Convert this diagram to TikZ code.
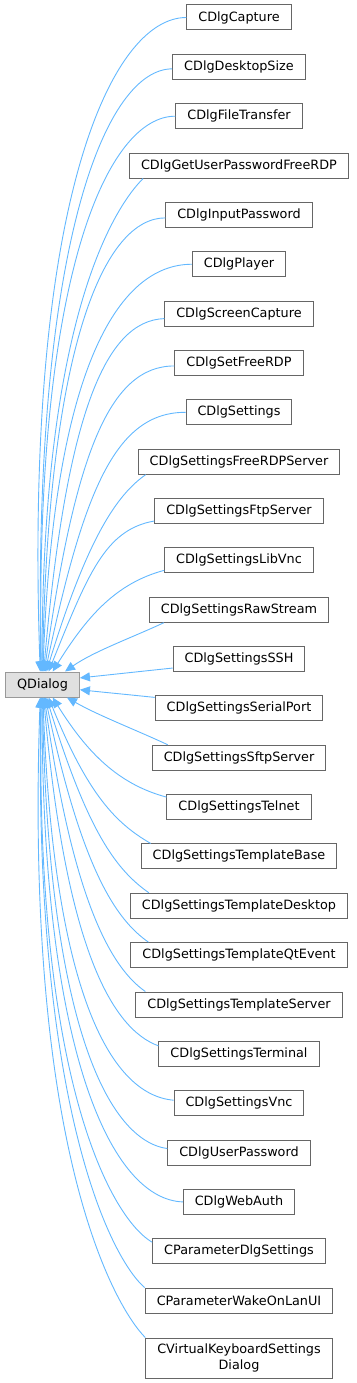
\documentclass[tikz,border=0pt]{standalone}
\usepackage{fontspec}
\setmainfont{DejaVu Sans}
\usepackage{xcolor}
\usepackage{tikz}
\usetikzlibrary{arrows.meta}

\definecolor{edgeblue}{HTML}{63B8FF}
\definecolor{boxgray}{HTML}{666666}
\definecolor{basegray}{HTML}{999999}
\definecolor{basefill}{HTML}{E0E0E0}

\tikzset{
  cls/.style={draw=boxgray, fill=white, line width=1pt, minimum height=25pt,
    inner xsep=11.5pt, inner ysep=0pt, font=\fontsize{12.8}{15.5}\selectfont},
  basecls/.style={cls, draw=basegray, fill=basefill},
  inherit/.style={edgeblue, line width=0.9pt, -{Triangle[length=10pt,width=9pt]}}
}

\begin{document}
\begin{tikzpicture}[x=1pt,y=-1pt]

\useasboundingbox (0,0) rectangle (356,1383);

\node[basecls] (qdialog) at (42.5,684.5) {QDialog};

\foreach \nm/\txt [count=\k from 0] in {
capture/CDlgCapture,
desktopsize/CDlgDesktopSize,
filetransfer/CDlgFileTransfer,
getuserpwd/CDlgGetUserPasswordFreeRDP,
inputpwd/CDlgInputPassword,
player/CDlgPlayer,
screencapture/CDlgScreenCapture,
setfreerdp/CDlgSetFreeRDP,
settings/CDlgSettings,
freerdpserver/CDlgSettingsFreeRDPServer,
ftpserver/CDlgSettingsFtpServer,
libvnc/CDlgSettingsLibVnc,
rawstream/CDlgSettingsRawStream,
ssh/CDlgSettingsSSH,
serialport/CDlgSettingsSerialPort,
sftpserver/CDlgSettingsSftpServer,
telnet/CDlgSettingsTelnet,
tplbase/CDlgSettingsTemplateBase,
tpldesktop/CDlgSettingsTemplateDesktop,
tplqtevent/CDlgSettingsTemplateQtEvent,
tplserver/CDlgSettingsTemplateServer,
terminal/CDlgSettingsTerminal,
vnc/CDlgSettingsVnc,
userpwd/CDlgUserPassword,
webauth/CDlgWebAuth,
paramdlg/CParameterDlgSettings,
wakeonlan/CParameterWakeOnLanUI
}{
    \node[cls] (\nm) at (239,{17.5+49.35*\k}) {\txt};
}

\node[cls, align=center, minimum height=40pt] (virtualkbd) at (239,1358)
  {CVirtualKeyboardSettings\\Dialog};

% child anchor, shift, leaving angle, QDialog anchor, arriving angle, distances
\foreach \nm/\anc/\dx/\dy/\out/\ang/\in/\od/\id in {
capture/west/0/0/180/100/92/75/470,
desktopsize/west/0/-2/180/97/91/65/435,
filetransfer/west/0/0/180/95/91/67/400,
getuserpwd/south west/14/0/225/92/90/40/355,
inputpwd/west/0/-3/180/90/89/60/330,
player/west/0/0/180/88/88/75/300,
screencapture/west/0/-5/182/85/85/60/255,
setfreerdp/west/0/-3/180/82/82/65/220,
settings/west/0/0/180/78/78/70/185,
freerdpserver/south west/8/0/215/73/73/35/140,
ftpserver/west/0/-10/190/65/68/50/105,
libvnc/west/0/-10/195/52/58/50/65,
rawstream/south west/15/0/205/30/35/35/35,
ssh/west/0/-9/186/10/6/30/30,
serialport/west/0/11/174/-8/-6/25/25,
sftpserver/north west/16/0/155/-28/-30/35/35,
telnet/west/0/10/165/-52/-58/50/65,
tplbase/north west/10/0/150/-65/-68/40/105,
tpldesktop/north west/19/0/145/-73/-73/40/140,
tplqtevent/north west/18/0/145/-78/-78/40/175,
tplserver/north west/10/0/145/-82/-82/40/210,
terminal/west/0/8/160/-85/-85/50/250,
vnc/west/0/3/175/-88/-88/65/290,
userpwd/west/0/4/172/-90/-89/60/325,
webauth/west/0/0/178/-92/-90/70/360,
paramdlg/west/0/9/150/-95/-91/45/390,
wakeonlan/north west/0/0/140/-97/-91/40/420,
virtualkbd/north west/0/0/135/-100/-92/40/460
}{
    \draw[inherit] ([xshift=\dx,yshift=\dy]\nm.\anc)
      to[out=\out, in=\in, out distance=\od, in distance=\id] (qdialog.\ang);
}

\end{tikzpicture}
\end{document}
